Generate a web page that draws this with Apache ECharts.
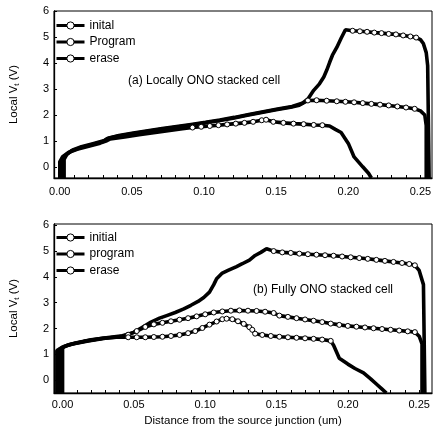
<!DOCTYPE html>
<html>
<head>
<meta charset="utf-8">
<script src="https://cdn.jsdelivr.net/npm/echarts@6/dist/echarts.min.js"></script>
<style>
html,body{margin:0;padding:0;background:#fff;}
#chart{width:434px;height:439px;}
</style>
</head>
<body>
<div id="chart"></div>
<script>
// ---------- data ----------
const xTickLabels = [0.00, 0.05, 0.10, 0.15, 0.20, 0.25];
const xMinorTicks = [0,0.01,0.02,0.03,0.04,0.05,0.06,0.07,0.08,0.09,0.10,0.11,0.12,0.13,0.14,0.15,0.16,0.17,0.18,0.19,0.20,0.21,0.22,0.23,0.24,0.25];
const yTickLabels = [0, 1, 2, 3, 4, 5, 6];

const legendA = ['inital', 'Program', 'erase'];
const legendB = ['initial', 'program', 'erase'];
const panelLabelA = '(a) Locally ONO stacked cell';
const panelLabelB = '(b) Fully ONO stacked cell';
const xTitle = 'Distance from the source junction (um)';

// Panel (a) Locally ONO stacked cell
const aInitialX = [0.002,0.002,0.004,0.008,0.014,0.022,0.030,0.033,0.040,0.050,0.060,0.070,0.080,0.090,0.100,0.110,0.120,0.130,0.140,0.150,0.160,0.166,0.172,0.178,0.185,0.192,0.198,0.204,0.210,0.216,0.222,0.228,0.234,0.240,0.246,0.250,0.253,0.254,0.254];
const aInitialY = [-0.42,0.25,0.45,0.62,0.74,0.86,0.98,1.10,1.18,1.28,1.37,1.45,1.53,1.61,1.69,1.78,1.88,1.99,2.10,2.20,2.30,2.38,2.56,2.57,2.55,2.53,2.51,2.49,2.46,2.43,2.40,2.37,2.33,2.29,2.24,2.16,2.00,1.60,-0.42];
const aProgramX = [0.003,0.003,0.005,0.009,0.015,0.023,0.031,0.034,0.041,0.051,0.061,0.071,0.081,0.091,0.101,0.111,0.121,0.131,0.141,0.151,0.161,0.168,0.172,0.176,0.180,0.183,0.185,0.187,0.189,0.192,0.195,0.198,0.203,0.208,0.213,0.218,0.223,0.228,0.233,0.238,0.243,0.247,0.250,0.252,0.254,0.255,0.256];
const aProgramY = [-0.42,0.30,0.50,0.66,0.78,0.90,1.02,1.12,1.21,1.31,1.40,1.48,1.56,1.64,1.72,1.81,1.91,2.02,2.13,2.23,2.33,2.45,2.62,2.95,3.20,3.46,3.72,4.02,4.30,4.60,4.95,5.28,5.24,5.22,5.20,5.17,5.15,5.12,5.10,5.06,5.02,4.98,4.90,4.75,4.40,3.90,-0.42];
const aEraseX = [0.000,0.000,0.002,0.006,0.012,0.020,0.028,0.032,0.035,0.045,0.055,0.065,0.075,0.085,0.092,0.098,0.104,0.110,0.116,0.122,0.128,0.134,0.140,0.143,0.148,0.155,0.162,0.169,0.176,0.182,0.187,0.191,0.195,0.200,0.204,0.207,0.210,0.214,0.216];
const aEraseY = [-0.42,0.20,0.40,0.56,0.68,0.80,0.92,1.00,1.08,1.16,1.24,1.32,1.40,1.47,1.52,1.55,1.58,1.61,1.64,1.67,1.70,1.74,1.80,1.82,1.74,1.70,1.67,1.65,1.62,1.61,1.58,1.45,1.33,0.91,0.39,0.20,0.01,-0.24,-0.42];

// Panel (b) Fully ONO stacked cell
const bInitialX = [-0.002,-0.002,0.001,0.007,0.018,0.030,0.040,0.046,0.052,0.058,0.064,0.070,0.076,0.082,0.088,0.094,0.100,0.106,0.112,0.118,0.124,0.130,0.136,0.142,0.148,0.152,0.158,0.164,0.170,0.176,0.182,0.188,0.194,0.200,0.206,0.212,0.218,0.224,0.230,0.236,0.242,0.247,0.250,0.252,0.252];
const bInitialY = [-0.5,1.20,1.30,1.40,1.52,1.62,1.68,1.76,1.90,2.06,2.16,2.22,2.28,2.34,2.40,2.47,2.55,2.62,2.66,2.69,2.70,2.69,2.68,2.65,2.60,2.50,2.45,2.40,2.35,2.30,2.25,2.19,2.14,2.10,2.07,2.04,2.01,1.98,1.95,1.92,1.89,1.86,1.70,1.40,-0.5];
const bProgramX = [0.000,0.000,0.003,0.009,0.020,0.032,0.042,0.050,0.056,0.062,0.068,0.073,0.079,0.085,0.090,0.095,0.099,0.103,0.106,0.108,0.112,0.116,0.122,0.126,0.131,0.135,0.139,0.143,0.148,0.154,0.160,0.166,0.172,0.178,0.184,0.190,0.196,0.202,0.208,0.214,0.220,0.226,0.232,0.238,0.243,0.247,0.250,0.253,0.254];
const bProgramY = [-0.5,1.25,1.34,1.44,1.56,1.65,1.72,1.85,2.05,2.25,2.40,2.50,2.62,2.76,2.90,3.05,3.20,3.41,3.70,3.93,4.15,4.25,4.40,4.51,4.65,4.83,4.95,5.09,5.00,4.95,4.93,4.90,4.88,4.86,4.84,4.82,4.79,4.76,4.73,4.70,4.66,4.62,4.58,4.54,4.50,4.45,4.25,3.70,-0.5];
const bEraseX = [-0.004,-0.004,0.000,0.005,0.015,0.028,0.038,0.046,0.052,0.058,0.064,0.070,0.076,0.082,0.088,0.093,0.098,0.103,0.108,0.112,0.115,0.119,0.123,0.127,0.131,0.133,0.135,0.140,0.146,0.152,0.158,0.164,0.170,0.176,0.182,0.188,0.190,0.194,0.200,0.205,0.211,0.216,0.220,0.224,0.227];
const bEraseY = [-0.5,1.15,1.28,1.38,1.50,1.62,1.66,1.66,1.66,1.66,1.67,1.68,1.71,1.75,1.82,1.90,2.02,2.15,2.27,2.36,2.38,2.36,2.28,2.18,2.05,1.95,1.80,1.75,1.71,1.68,1.66,1.64,1.62,1.60,1.57,1.52,1.35,0.85,0.62,0.45,0.28,0.05,-0.15,-0.35,-0.5];

// ---------- styling helpers ----------
function pairs(xs, ys){ return xs.map((x,i)=>[x, ys[i]]); }
// x-ranges in which the curve shows open circle markers
const markRanges = {
  aInitial:[0.170,0.247], aProgram:[0.200,0.247], aErase:[0.090,0.185],
  bInitial:[0.045,0.247], bProgram:[0.145,0.247], bErase:[0.045,0.189]
};
function mkSeries(name, xs, ys, idx, key){
  const r = markRanges[key];
  return {
    name: name, type:'line', xAxisIndex: idx, yAxisIndex: idx,
    data: pairs(xs, ys),
    symbol:'circle',
    symbolSize: function(v){ return (Array.isArray(v) && v[0] >= r[0] && v[0] <= r[1]) ? 5 : 0; },
    showSymbol:true,
    lineStyle:{color:'#000', width:3.6},
    itemStyle:{color:'#fff', borderColor:'#000', borderWidth:1},
    animation:false,
    emphasis:{disabled:true}
  };
}

const fontFam = '"Liberation Sans", Arial, sans-serif';

function xAxisCfg(idx, min, max, withName, labelMargin){
  const c = {
    type:'value', gridIndex: idx, min:min, max:max,
    axisLine:{onZero:false, lineStyle:{color:'#000', width:1.3}},
    axisTick:{show:true, inside:true, length:3, customValues:xMinorTicks, lineStyle:{color:'#000'}},
    axisLabel:{customValues:xTickLabels, formatter:v=>v.toFixed(2), color:'#000', fontSize:11, fontFamily:fontFam, margin:labelMargin},
    splitLine:{show:false}
  };
  if(withName){
    c.name = xTitle; c.nameLocation='middle'; c.nameGap=22;
    c.nameTextStyle={color:'#000', fontSize:11.5, fontFamily:fontFam};
  }
  return c;
}
function yAxisCfg(idx, min, max){
  return {
    type:'value', gridIndex: idx, min:min, max:max,
    axisLine:{onZero:false, lineStyle:{color:'#000', width:1.3}},
    axisTick:{show:true, inside:true, length:3, customValues:yTickLabels, lineStyle:{color:'#000'}},
    axisLabel:{customValues:yTickLabels, color:'#000', fontSize:11, fontFamily:fontFam, margin:5},
    splitLine:{show:false},
    name:'Local V{sub|t} (V)', nameLocation:'middle', nameGap:33,
    nameTextStyle:{color:'#000', fontSize:11.5, fontFamily:fontFam,
      rich:{sub:{fontSize:8, verticalAlign:'bottom', padding:[6,0,0,0], color:'#000', fontFamily:fontFam}}}
  };
}

const legendCommon = {
  orient:'vertical', itemWidth:28, itemHeight:9, itemGap:3.5, padding:0,
  textStyle:{color:'#000', fontSize:12, fontFamily:fontFam, lineHeight:13},
  itemStyle:{color:'#fff', borderColor:'#000', borderWidth:1},
  lineStyle:{color:'#000', width:3},
  selectedMode:false
};

const chart = echarts.init(document.getElementById('chart'), null, {renderer:'canvas'});
chart.setOption({
  backgroundColor:'#fff',
  animation:false,
  grid:[
    {left:47, top:11, width:385, height:167, show:true, borderColor:'#000', borderWidth:1},
    {left:46, top:224, width:386, height:169, show:true, borderColor:'#000', borderWidth:1}
  ],
  xAxis:[ xAxisCfg(0, -0.004, 0.258, false, 8), xAxisCfg(1, -0.006, 0.259, true, 6) ],
  yAxis:[ yAxisCfg(0, -0.42, 6), yAxisCfg(1, -0.5, 6.05) ],
  legend:[
    Object.assign({}, legendCommon, {left:55, top:19, data:legendA.slice()}),
    Object.assign({}, legendCommon, {left:55, top:231, data:[legendB[0], legendB[1], 'erase ']})
  ],
  graphic:[
    {type:'text', left:128, top:75, style:{text:panelLabelA, fill:'#000', font:'12px ' + fontFam}},
    {type:'text', left:253, top:284, style:{text:panelLabelB, fill:'#000', font:'12px ' + fontFam}}
  ],
  series:[
    mkSeries(legendA[0], aInitialX, aInitialY, 0, 'aInitial'),
    mkSeries(legendA[1], aProgramX, aProgramY, 0, 'aProgram'),
    mkSeries(legendA[2], aEraseX, aEraseY, 0, 'aErase'),
    mkSeries(legendB[0], bInitialX, bInitialY, 1, 'bInitial'),
    mkSeries(legendB[1], bProgramX, bProgramY, 1, 'bProgram'),
    mkSeries('erase ', bEraseX, bEraseY, 1, 'bErase')
  ]
});
</script>
</body>
</html>
